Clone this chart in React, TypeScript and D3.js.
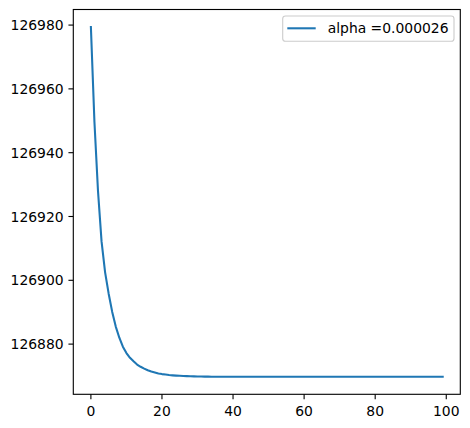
import React from "react";
import * as d3 from "d3";

const iterations: number[] = Array.from({ length: 100 }, (_, i) => i);
const costValues: number[] = [
  126979.4, 126949.6, 126928.0, 126912.2, 126902.5, 126895.8, 126890.1, 126885.5, 126882.0, 126879.2,
  126877.2, 126875.7, 126874.6, 126873.6, 126872.9, 126872.3, 126871.8, 126871.4, 126871.1, 126870.8,
  126870.6, 126870.45, 126870.3, 126870.2, 126870.12, 126870.06, 126870.0, 126869.96, 126869.92, 126869.89,
  126869.86, 126869.84, 126869.82, 126869.8, 126869.79, 126869.78, 126869.77, 126869.77, 126869.76, 126869.76,
  126869.76, 126869.75, 126869.75, 126869.75, 126869.75, 126869.75, 126869.75, 126869.75, 126869.75, 126869.75,
  126869.75, 126869.75, 126869.75, 126869.75, 126869.75, 126869.75, 126869.75, 126869.75, 126869.75, 126869.75,
  126869.75, 126869.75, 126869.75, 126869.75, 126869.75, 126869.75, 126869.75, 126869.75, 126869.75, 126869.75,
  126869.75, 126869.75, 126869.75, 126869.75, 126869.75, 126869.75, 126869.75, 126869.75, 126869.75, 126869.75,
  126869.75, 126869.75, 126869.75, 126869.75, 126869.75, 126869.75, 126869.75, 126869.75, 126869.75, 126869.75,
  126869.75, 126869.75, 126869.75, 126869.75, 126869.75, 126869.75, 126869.75, 126869.75, 126869.75, 126869.75,
];
const xTicks: number[] = [0, 20, 40, 60, 80, 100];
const yTicks: number[] = [126880, 126900, 126920, 126940, 126960, 126980];
const legendLabel = "alpha =0.000026";

const W = 470;
const H = 428;
const left = 73.3;
const right = 460.3;
const top = 9.5;
const bottom = 394.3;
const font = "'DejaVu Sans', sans-serif";
const blue = "#1f77b4";

export default function App() {
  const xmin = d3.min(iterations)!;
  const xmax = d3.max(iterations)!;
  const xpad = (xmax - xmin) * 0.05;
  const ymin = d3.min(costValues)!;
  const ymax = d3.max(costValues)!;
  const ypad = (ymax - ymin) * 0.05;
  const x = d3.scaleLinear().domain([xmin - xpad, xmax + xpad]).range([left, right]);
  const y = d3.scaleLinear().domain([ymin - ypad, ymax + ypad]).range([bottom, top]);
  const line = d3
    .line<number>()
    .x((_, i) => x(iterations[i]))
    .y((d) => y(d));
  const tick = 4.86;

  return (
    <svg
      width={W}
      height={H}
      style={{ position: "absolute", left: 0, top: 0, background: "#fff" }}
      fontFamily={font}
    >
      <rect x={0} y={0} width={W} height={H} fill="#fff" />
      <path d={line(costValues) || ""} fill="none" stroke={blue} strokeWidth={2.08} strokeLinejoin="round" strokeLinecap="square" />
      <rect x={left} y={top} width={right - left} height={bottom - top} fill="none" stroke="#000" strokeWidth={1.11} />
      {xTicks.map((t) => (
        <g key={"x" + t}>
          <line x1={x(t)} x2={x(t)} y1={bottom} y2={bottom + tick} stroke="#000" strokeWidth={1.11} />
          <text x={x(t)} y={415.7} textAnchor="middle" fontSize={13.9} fill="#000">
            {t}
          </text>
        </g>
      ))}
      {yTicks.map((t) => (
        <g key={"y" + t}>
          <line x1={left - tick} x2={left} y1={y(t)} y2={y(t)} stroke="#000" strokeWidth={1.11} />
          <text x={left - tick - 4.86} y={y(t) + 5.1} textAnchor="end" fontSize={13.9} fill="#000">
            {t}
          </text>
        </g>
      ))}
      <g>
        <rect x={282.7} y={16} width={171.3} height={25.3} rx={2.8} fill="#fff" fillOpacity={0.8} stroke="#cccccc" strokeWidth={1.11} />
        <line x1={287.3} x2={315.7} y1={28.3} y2={28.3} stroke={blue} strokeWidth={2.08} />
        <text x={327.7} y={33.4} fontSize={13.9} fill="#000">
          {legendLabel}
        </text>
      </g>
    </svg>
  );
}
